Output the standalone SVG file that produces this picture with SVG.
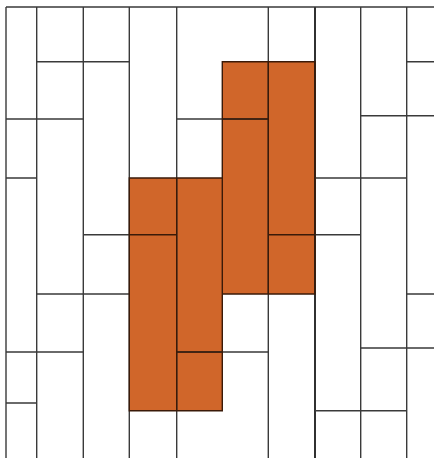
<svg xmlns="http://www.w3.org/2000/svg" width="434" height="458" viewBox="0 0 434 458">
<style>
.ln{stroke:#3a3a3a;stroke-width:1.4;fill:none}
.dk{stroke:#1a1a1a;stroke-width:1.8;fill:none}
.or{fill:#D0662A;stroke:none}
.oe{stroke:#3a1a08;stroke-width:1.4;fill:none}
</style>
<rect width="434" height="458" fill="#ffffff"/>
<g id="orange">
<polygon class="or" points="129.3,178 222.3,178 222.3,61.7 315,61.7 315,294 222.3,294 222.3,410.7 129.3,410.7"/>
</g>
<g id="grid">
<path class="ln" d="M6,7V458M36.7,7V458M83.3,7V458M129.3,7V458M176.7,7V458M268.3,7V458M360.7,7V458M406.7,7V458"/>
<path class="dk" d="M315,7V458"/>
<path class="ln" d="M6,7H434M36.7,61.7H129.3M406.7,61.7H434M360.7,115.7H434M6,119H83.3M176.7,119H268.3M6,178H36.7M315,178H406.7M83.3,234.7H129.3M315,234.7H360.7M36.7,294H129.3M406.7,294H434M360.7,348H434M6,352H83.3M176.7,352H268.3M6,403H36.7M315,410.7H406.7"/>
</g>
<g id="orange-edges">
<path class="oe" d="M129.3,178H222.3V61.7H315V294H222.3V410.7H129.3ZM222.3,178V294M176.7,178V410.7M268.3,61.7V294M129.3,234.7H176.7M268.3,234.7H315M222.3,119H268.3M176.7,352H222.3"/>
</g>
</svg>
